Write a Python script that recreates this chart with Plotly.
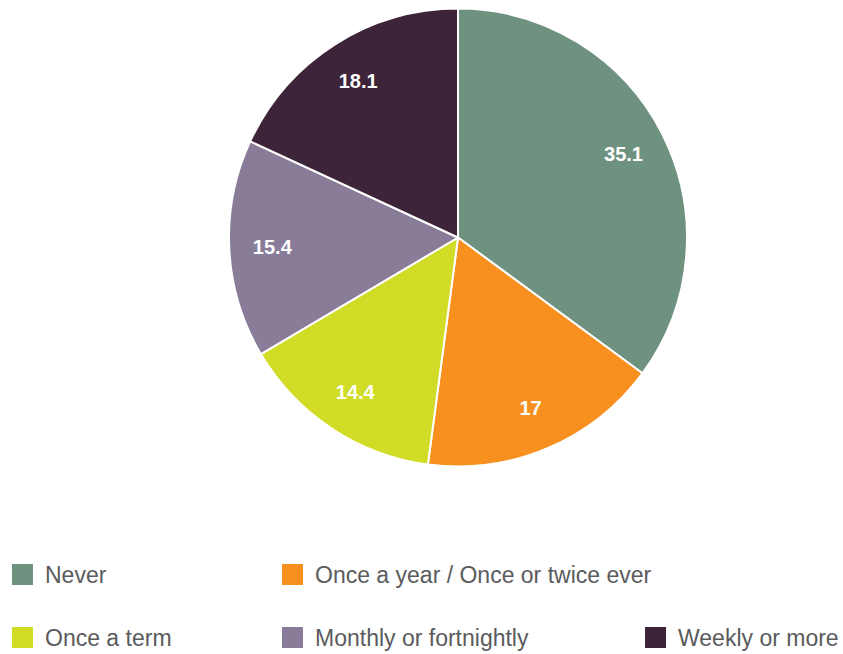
import plotly.graph_objects as go

labels = ["Never", "Once a year / Once or twice ever", "Once a term",
          "Monthly or fortnightly", "Weekly or more"]
values = [35.1, 17, 14.4, 15.4, 18.1]
colors = ["#6e9180", "#f7901e", "#d0dc26", "#887c98", "#3d2438"]

# legend layout: (column x start in px, row) per label
legend_cols = [12, 282, 12, 282, 645]
legend_rows = [0, 0, 1, 1, 1]

W, H = 843, 654


def px_x(x):
    return x / W


def px_y(y):
    return 1 - y / H


pie_domain = dict(x=[px_x(229), px_x(687)], y=[px_y(467), px_y(8)])

fig = go.Figure()
fig.add_trace(go.Pie(
    labels=labels,
    values=values,
    sort=False,
    direction="clockwise",
    rotation=0,
    marker=dict(colors=colors, line=dict(color="white", width=2)),
    textinfo="none",
    showlegend=False,
    hoverinfo="label+value",
    domain=pie_domain,
))
# transparent ring on top just to place the value labels out toward the rim
fig.add_trace(go.Pie(
    labels=labels,
    values=values,
    sort=False,
    direction="clockwise",
    rotation=0,
    hole=0.62,
    marker=dict(colors=["rgba(0,0,0,0)"] * len(values), line=dict(width=0)),
    text=[f"{v:g}" for v in values],
    textinfo="text",
    textposition="inside",
    insidetextorientation="horizontal",
    insidetextfont=dict(family="Liberation Sans", size=20, color="white", weight="bold"),
    showlegend=False,
    hoverinfo="skip",
    domain=pie_domain,
))

# hand-laid legend with large square swatches
for lab, col, cx, row in zip(labels, colors, legend_cols, legend_rows):
    y0 = 564 + row * 63
    fig.add_shape(type="rect", xref="paper", yref="paper",
                  x0=px_x(cx), x1=px_x(cx + 21),
                  y0=px_y(y0 + 21), y1=px_y(y0),
                  fillcolor=col, line=dict(width=0))
    fig.add_annotation(xref="paper", yref="paper",
                       x=px_x(cx + 31), y=px_y(y0 + 10.5),
                       xanchor="left", yanchor="middle", showarrow=False,
                       text=lab,
                       font=dict(family="Liberation Sans", size=23, color="#5a5b5d"))

fig.update_layout(
    width=W, height=H,
    margin=dict(l=0, r=0, t=0, b=0),
    paper_bgcolor="white",
    plot_bgcolor="white",
)

# drop the default 8px page margin so the figure fills the window exactly
fig.write_html("out.html", config={"displayModeBar": False},
               post_script="document.body.style.margin='0';")
